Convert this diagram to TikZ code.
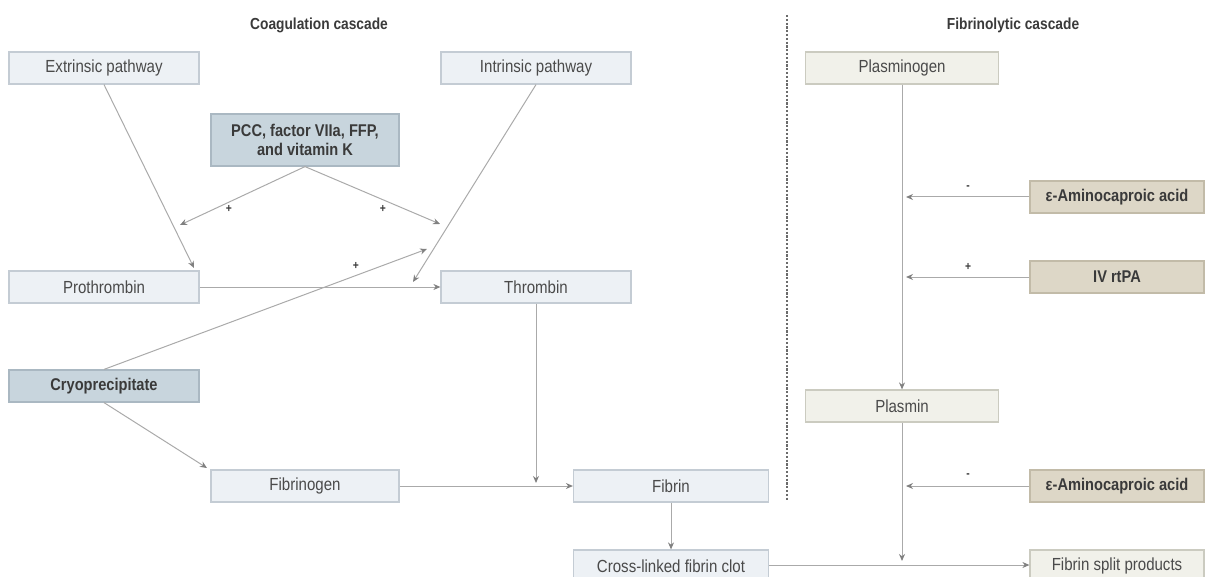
\documentclass[tikz,border=0pt]{standalone}
\usepackage{fontspec}
\setmainfont[FakeStretch=0.86]{Liberation Sans}
\usetikzlibrary{arrows.meta,positioning}

\definecolor{coagfill}{HTML}{EDF1F5}
\definecolor{coagline}{HTML}{C4CCD4}
\definecolor{drugfill}{HTML}{C8D5DD}
\definecolor{drugline}{HTML}{AAB8C2}
\definecolor{lysfill}{HTML}{F1F1EA}
\definecolor{lysline}{HTML}{CBCBC0}
\definecolor{acidfill}{HTML}{DDD7C7}
\definecolor{acidline}{HTML}{C2BBA8}
\definecolor{wire}{HTML}{AAAAAA}
\definecolor{ink}{HTML}{3A3A3A}

\begin{document}
\begin{tikzpicture}[x=1pt,y=-1pt]

\tikzset{
  blk/.style   = {draw, line width=1.2pt, inner sep=0pt, align=center,
                  minimum height=32pt, font=\fontsize{17.5}{19}\selectfont,
                  text=ink!92},
  coag/.style  = {blk, minimum width=190pt, fill=coagfill, draw=coagline},
  drug/.style  = {coag, fill=drugfill, draw=drugline, text=ink,
                  font=\fontsize{17}{19}\selectfont\bfseries},
  lys/.style   = {blk, minimum width=193pt, fill=lysfill, draw=lysline},
  acid/.style  = {blk, minimum width=174pt, fill=acidfill, draw=acidline,
                  text=ink, font=\fontsize{17}{19}\selectfont\bfseries},
  flow/.style  = {-{Stealth[length=7pt,width=6pt,color=wire!75!black]},
                  line width=1pt, draw=wire},
  sign/.style  = {font=\fontsize{12}{12}\selectfont\bfseries, text=ink,
                  inner sep=0pt},
  ttl/.style   = {font=\fontsize{16}{18}\selectfont\bfseries, text=ink},
}

\useasboundingbox (0,0) rectangle (1206,577);

% titles and divider
\node[ttl] (tcoag) at (319,25) {Coagulation cascade};
\node[ttl] (tlys) at (1013,25) {Fibrinolytic cascade};
\draw[ink!75, line width=2pt, dash pattern=on 2.2pt off 1.6pt] (787,15) -- (787,500);

% coagulation cascade
\node[coag] (ext) at (104,68) {Extrinsic pathway};
\node[coag] (intr) at (536,68) {Intrinsic pathway};
\node[drug, minimum width=188pt, minimum height=52pt] (pcc) at (305,140) {PCC, factor VIIa, FFP,\\and vitamin K};
\node[coag] (pro) at (104,287) {Prothrombin};
\node[coag] (thr) at (536,287) {Thrombin};
\node[drug] (cryo) at (104,386) {Cryoprecipitate};
\node[coag, minimum width=188pt] (fbg) at (305,486) {Fibrinogen};
\node[coag, minimum width=195pt] (fib) at (671,486) {Fibrin};
\node[coag, minimum width=195pt] (xl) at (671,566) {Cross-linked fibrin clot};

% fibrinolytic cascade
\node[lys] (plg) at (902,68) {Plasminogen};
\node[acid] (eac1) at (1117,197) {ε-Aminocaproic acid};
\node[acid] (tpa) at (1117,277) {IV rtPA};
\node[lys] (plm) at (902,406) {Plasmin};
\node[acid] (eac2) at (1117,486) {ε-Aminocaproic acid};
\node[lys, minimum width=174pt] (fsp) at (1117,566) {Fibrin split products};

% free ends on other connectors
\coordinate (extend) at (194,268);
\coordinate (intend) at (413,282);
\coordinate (pccl) at (180,225);
\coordinate (pccr) at (440,224);
\coordinate (cryoend) at (427,249);
\coordinate (fbgend) at (207,468);
\coordinate (thrend) at (536,483);
\coordinate (plmend) at (902,561);
\coordinate (eac1end) at (906,197);
\coordinate (tpaend) at (906,277);
\coordinate (eac2end) at (906,486);

\draw[flow] (ext.south) -- (extend);
\draw[flow] (intr.south) -- (intend);
\draw[flow] (pcc.south) -- (pccl);
\draw[flow] (pcc.south) -- (pccr);
\draw[flow] (cryo.north) -- (cryoend);
\draw[flow] (pro.east) -- (thr.west);
\draw[flow] (cryo.south) -- (fbgend);
\draw[flow] (thr.south) -- (thrend);
\draw[flow] (fbg.east) -- (fib.west);
\draw[flow] (fib.south) -- (xl.north);
\draw[flow] (xl.east |- 0,565) -- (fsp.west |- 0,565);
\draw[flow] (plg.south) -- (plm.north);
\draw[flow] (eac1.west) -- (eac1end);
\draw[flow] (tpa.west) -- (tpaend);
\draw[flow] (plm.south) -- (plmend);
\draw[flow] (eac2.west) -- (eac2end);

\node[sign] (s1) at (229,209) {+};
\node[sign] (s2) at (383,209) {+};
\node[sign] (s3) at (356,266) {+};
\node[sign] (s4) at (968,188) {-};
\node[sign] (s5) at (968,267) {+};
\node[sign] (s6) at (968,476) {-};
\end{tikzpicture}
\end{document}
